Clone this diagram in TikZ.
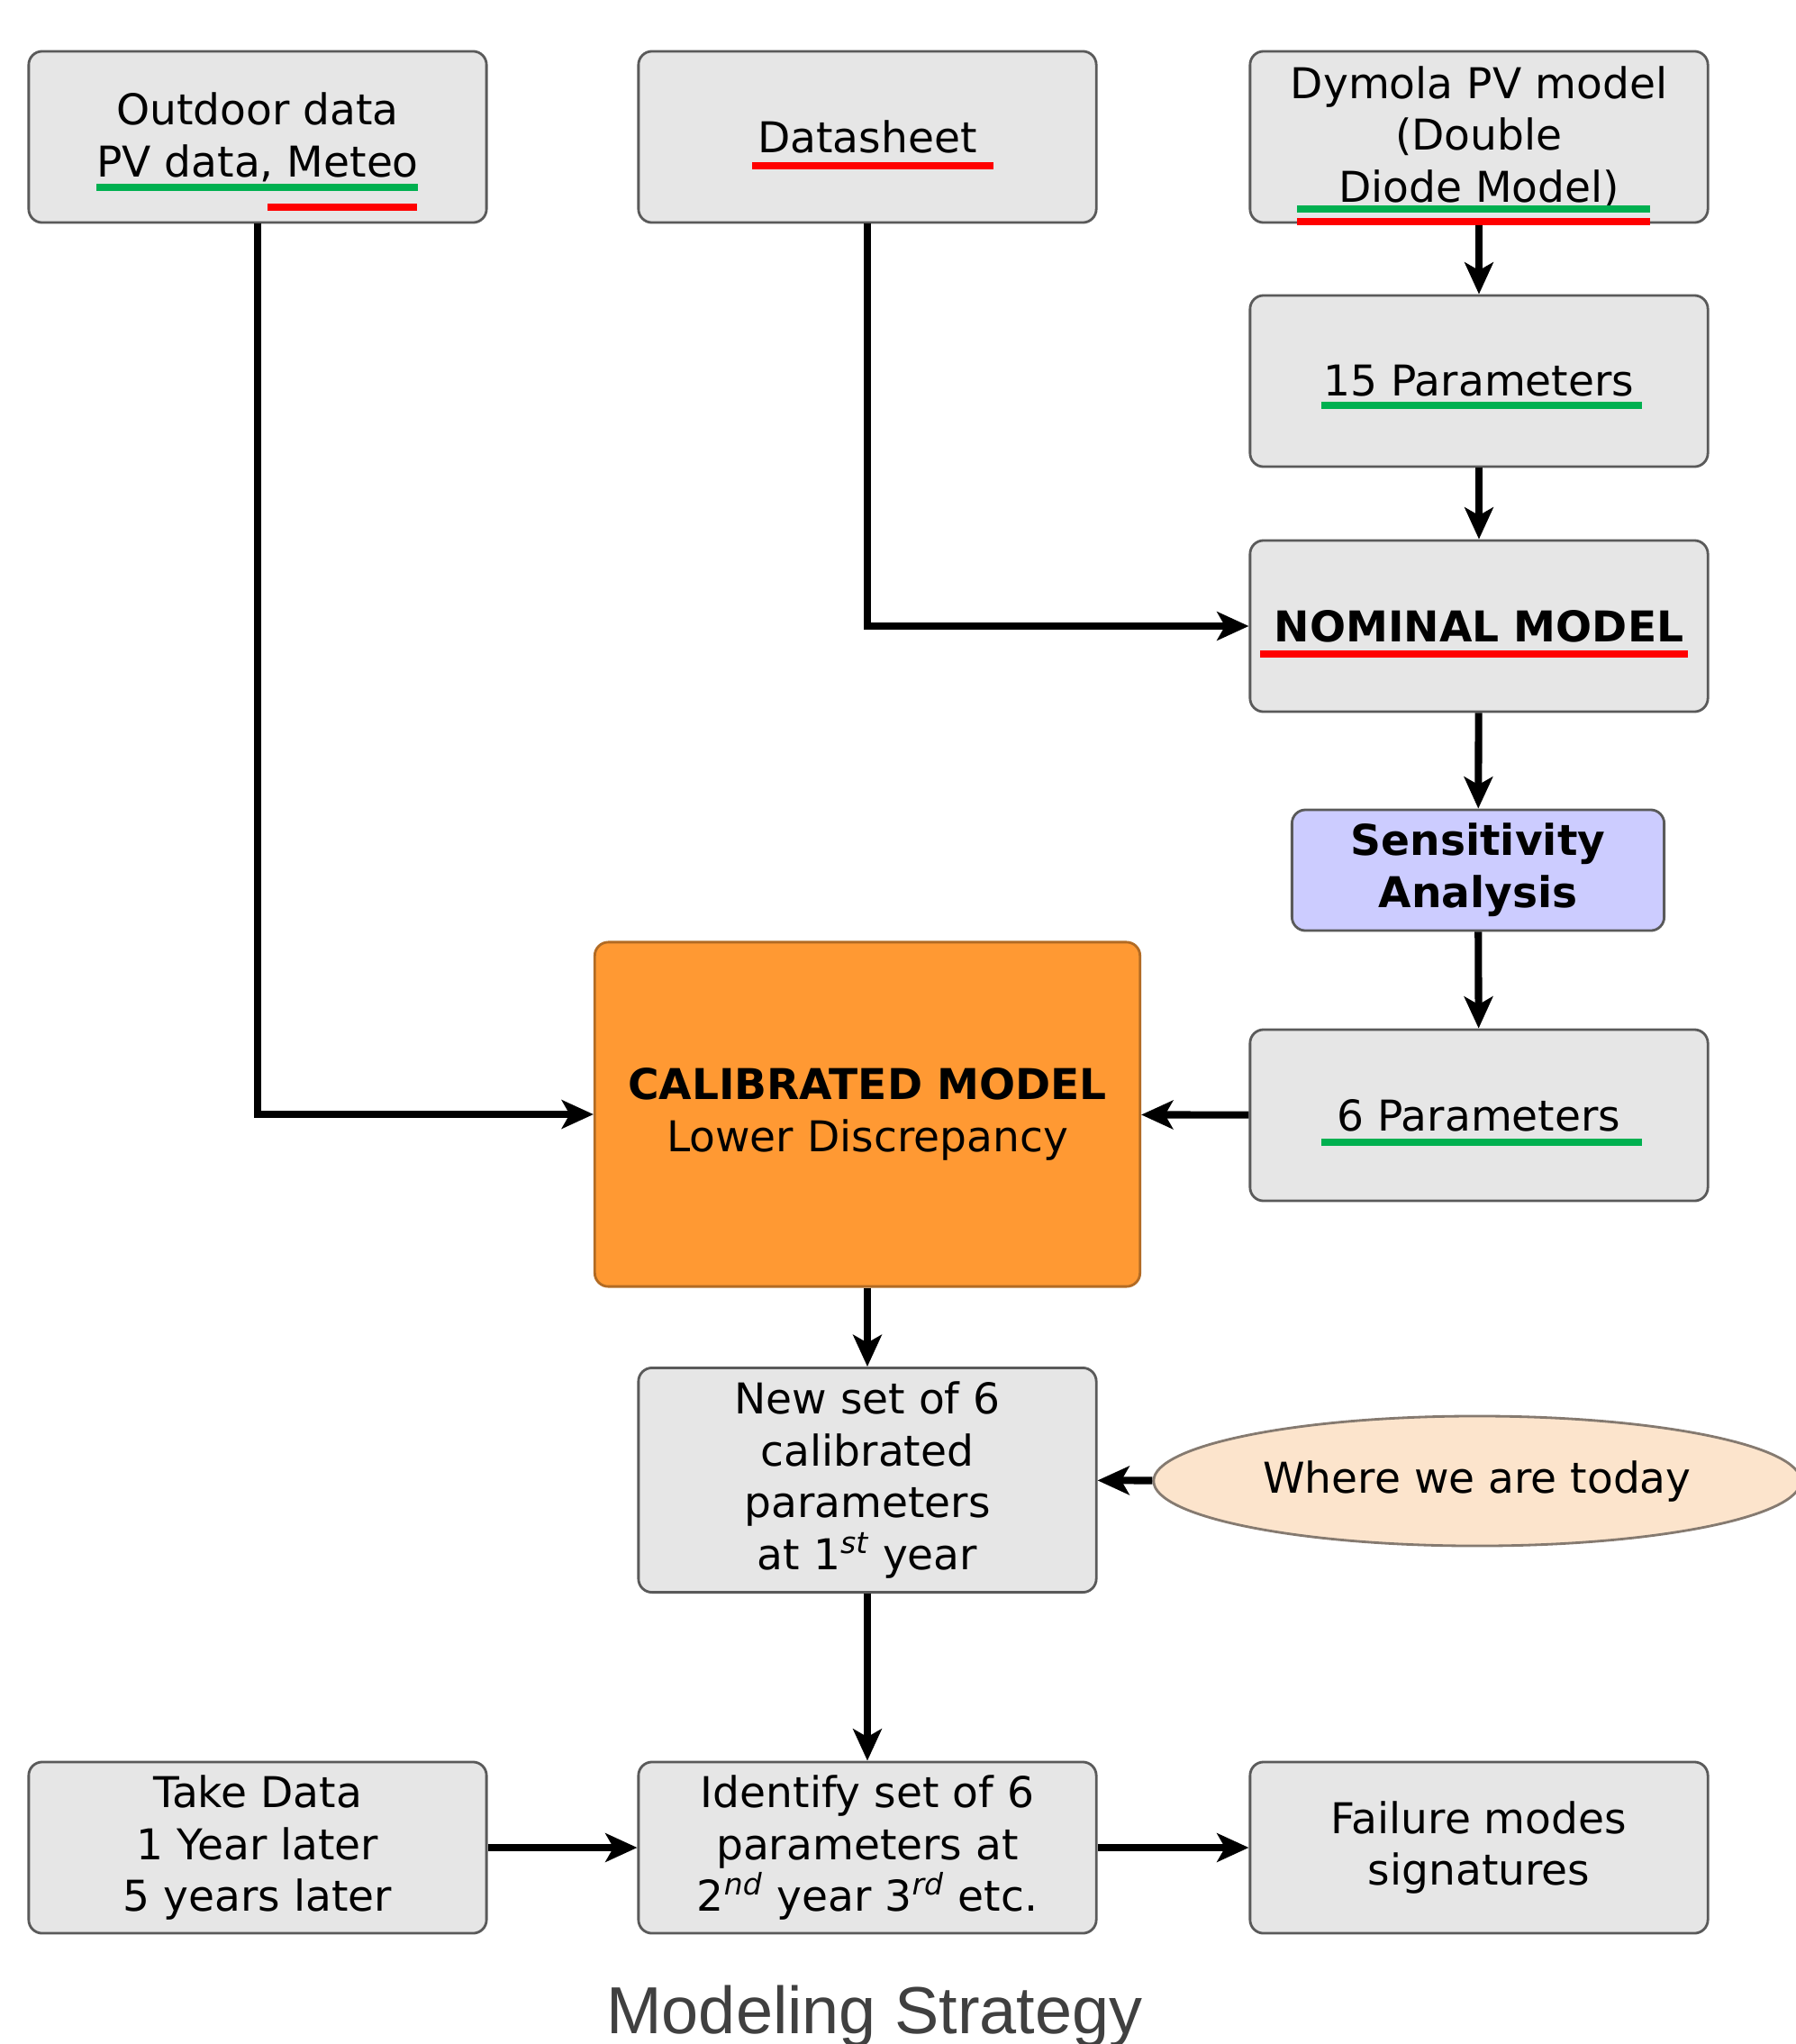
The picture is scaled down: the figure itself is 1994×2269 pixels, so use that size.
\documentclass[tikz,border=0pt]{standalone}
\usepackage{fontspec}
\setmainfont{DejaVu Sans}
\newfontfamily\titlefont{Liberation Sans}
\usepackage{tikz}
\usetikzlibrary{positioning,shapes.geometric,arrows.meta}
\definecolor{boxgray}{HTML}{E6E6E6}
\definecolor{boxline}{HTML}{5A5A5A}
\definecolor{calorange}{HTML}{FF9933}
\definecolor{sensblue}{HTML}{CCCCFF}
\definecolor{todaypeach}{HTML}{FCE4CC}
\definecolor{todayline}{HTML}{857A70}
\definecolor{ulgreen}{HTML}{00B050}
\definecolor{ulred}{HTML}{FF0000}
\definecolor{titlegray}{HTML}{404040}

\begin{document}
\begin{tikzpicture}[x=0.01cm, y=-0.01cm,
    box/.style={draw=boxline, fill=boxgray, rounded corners=0.15cm, line width=0.8pt,
        minimum width=5.08cm, minimum height=1.9cm, align=center,
        font=\fontsize{13.4}{16.4}\selectfont},
    flow/.style={line width=2.3pt, -{Stealth[length=10pt, width=9pt, inset=2.5pt]}},
    uline/.style={line width=2.2pt}]
    \useasboundingbox (0,0) rectangle (1994,2269);
    \node[box] (outdoor) at (286,152) {Outdoor data\\PV data, Meteo};
    \node[box] (datasheet) at (963,152) {Datasheet};
    \node[box] (dymola) at (1642,152) {Dymola PV model\\(Double\\Diode Model)};
    \node[box] (params15) at (1642,423) {15 Parameters};
    \node[box] (nominal) at (1642,695) {\bfseries NOMINAL MODEL};
    \node[box, fill=sensblue, minimum width=4.13cm, minimum height=1.34cm] (sens) at (1641,966) {\bfseries Sensitivity\\\bfseries Analysis};
    \node[box] (params6) at (1642,1238) {6 Parameters};
    \node[box, fill=calorange, draw=calorange!70!black, minimum width=6.05cm, minimum height=3.82cm] (calib) at (963,1237) {\bfseries CALIBRATED MODEL\\Lower Discrepancy};
    \node[box, minimum height=2.49cm] (newset) at (963,1643) {New set of 6\\calibrated\\parameters\\at 1\textsuperscript{\itshape st} year};
    \node[ellipse, draw=todayline, fill=todaypeach, line width=0.8pt, minimum width=7.18cm, minimum height=1.44cm,
        font=\fontsize{13.4}{16.4}\selectfont] (today) at (1640,1644) {Where we are today};
    \node[box] (takedata) at (286,2051) {Take Data\\1 Year later\\5 years later};
    \node[box] (identify) at (963,2051) {Identify set of 6\\parameters at\\2\textsuperscript{\itshape nd} year 3\textsuperscript{\itshape rd} etc.};
    \node[box] (failure) at (1642,2051) {Failure modes\\signatures};
    \node[font=\titlefont\fontsize{21}{24}\selectfont, text=titlegray, anchor=base] (title) at (971,2257) {Modeling Strategy};

    \draw[flow] (outdoor.south) |- (calib.west);
    \draw[flow] (datasheet.south) |- (nominal.west);
    \draw[flow] (dymola) -- (params15);
    \draw[flow] (params15) -- (nominal);
    \draw[flow] (nominal) -- (sens);
    \draw[flow] (sens) -- (params6);
    \draw[flow] (params6) -- (calib);
    \draw[flow] (calib) -- (newset);
    \draw[flow] (today) -- (newset);
    \draw[flow] (newset) -- (identify);
    \draw[flow] (takedata) -- (identify);
    \draw[flow] (identify) -- (failure);

    \draw[uline, ulgreen] (107,208) -- (464,208);
    \draw[uline, ulred] (297,230) -- (463,230);
    \draw[uline, ulred] (835,184) -- (1103,184);
    \draw[uline, ulgreen] (1440,232) -- (1832,232);
    \draw[uline, ulred] (1440,246) -- (1832,246);
    \draw[uline, ulgreen] (1467,450) -- (1823,450);
    \draw[uline, ulred] (1399,726) -- (1874,726);
    \draw[uline, ulgreen] (1467,1268) -- (1823,1268);
\end{tikzpicture}
\end{document}
